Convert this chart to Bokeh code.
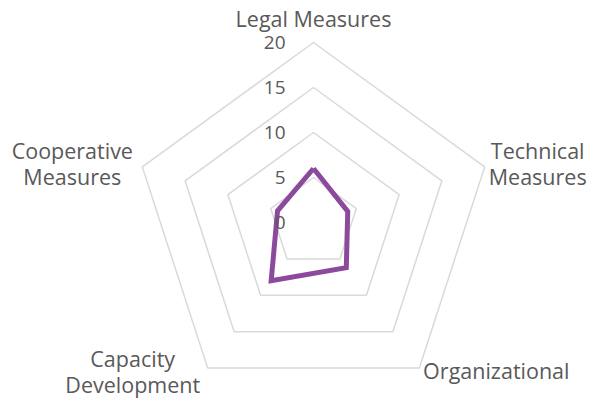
import math
from bokeh.plotting import figure
from bokeh.models import Range1d
from bokeh.core.properties import value
from bokeh.embed import file_html
from bokeh.resources import INLINE

categories = ["Legal Measures", "Technical\nMeasures", "Organizational",
              "Capacity\nDevelopment", "Cooperative\nMeasures"]
scores = [6, 4, 6.2, 8, 4.2]
ticks = [0, 5, 10, 15, 20]
tick_labels = ["0", "5", "10", "15", "20"]

# layout (pixels)
W, H = 589, 400
CX, CY = 313, 222          # centre in figure pixels
PX = 9.0                   # pixels per unit
rmax = max(ticks)
FONT = "Open Sans"
TXT = "#595959"

p = figure(width=W, height=H, output_backend="svg", toolbar_location=None,
           x_range=Range1d(-CX / PX, (W - CX) / PX),
           y_range=Range1d(-(H - CY) / PX, CY / PX),
           min_border=0)
p.axis.visible = False
p.grid.visible = False
p.outline_line_color = None

n = len(categories)
angles = [math.pi / 2 - 2 * math.pi * i / n for i in range(n)]

# rings
xs, ys = [], []
for t in ticks[1:]:
    xs.append([t * math.cos(a) for a in angles] + [t * math.cos(angles[0])])
    ys.append([t * math.sin(a) for a in angles] + [t * math.sin(angles[0])])
p.multi_line(xs, ys, line_color="#d9d9d9", line_width=1.5)

# data
dx = [s * math.cos(a) for s, a in zip(scores, angles)]
dy = [s * math.sin(a) for s, a in zip(scores, angles)]
p.line(dx + [dx[0]], dy + [dy[0]], line_color="#8c4a9c", line_width=5,
       line_join="miter")

# tick labels
p.text(x=[-28 / PX] * len(ticks), y=ticks, text=tick_labels,
       text_align="right", text_baseline="middle", text_color=TXT,
       text_font=value(FONT), text_font_size="19px")

# category labels (pixel offsets from the outer vertices)
offsets = [(0, 24), (53, 3), (77, -2), (-75, -3), (-70, 3)]
lx = [rmax * math.cos(a) + o[0] / PX for a, o in zip(angles, offsets)]
ly = [rmax * math.sin(a) + o[1] / PX for a, o in zip(angles, offsets)]
p.text(x=lx, y=ly, text=categories, text_align="center",
       text_baseline="middle", text_color=TXT, text_font=value(FONT),
       text_font_size="21.5px", text_line_height=0.89)

open("out.html", "w").write(file_html(p, INLINE))
